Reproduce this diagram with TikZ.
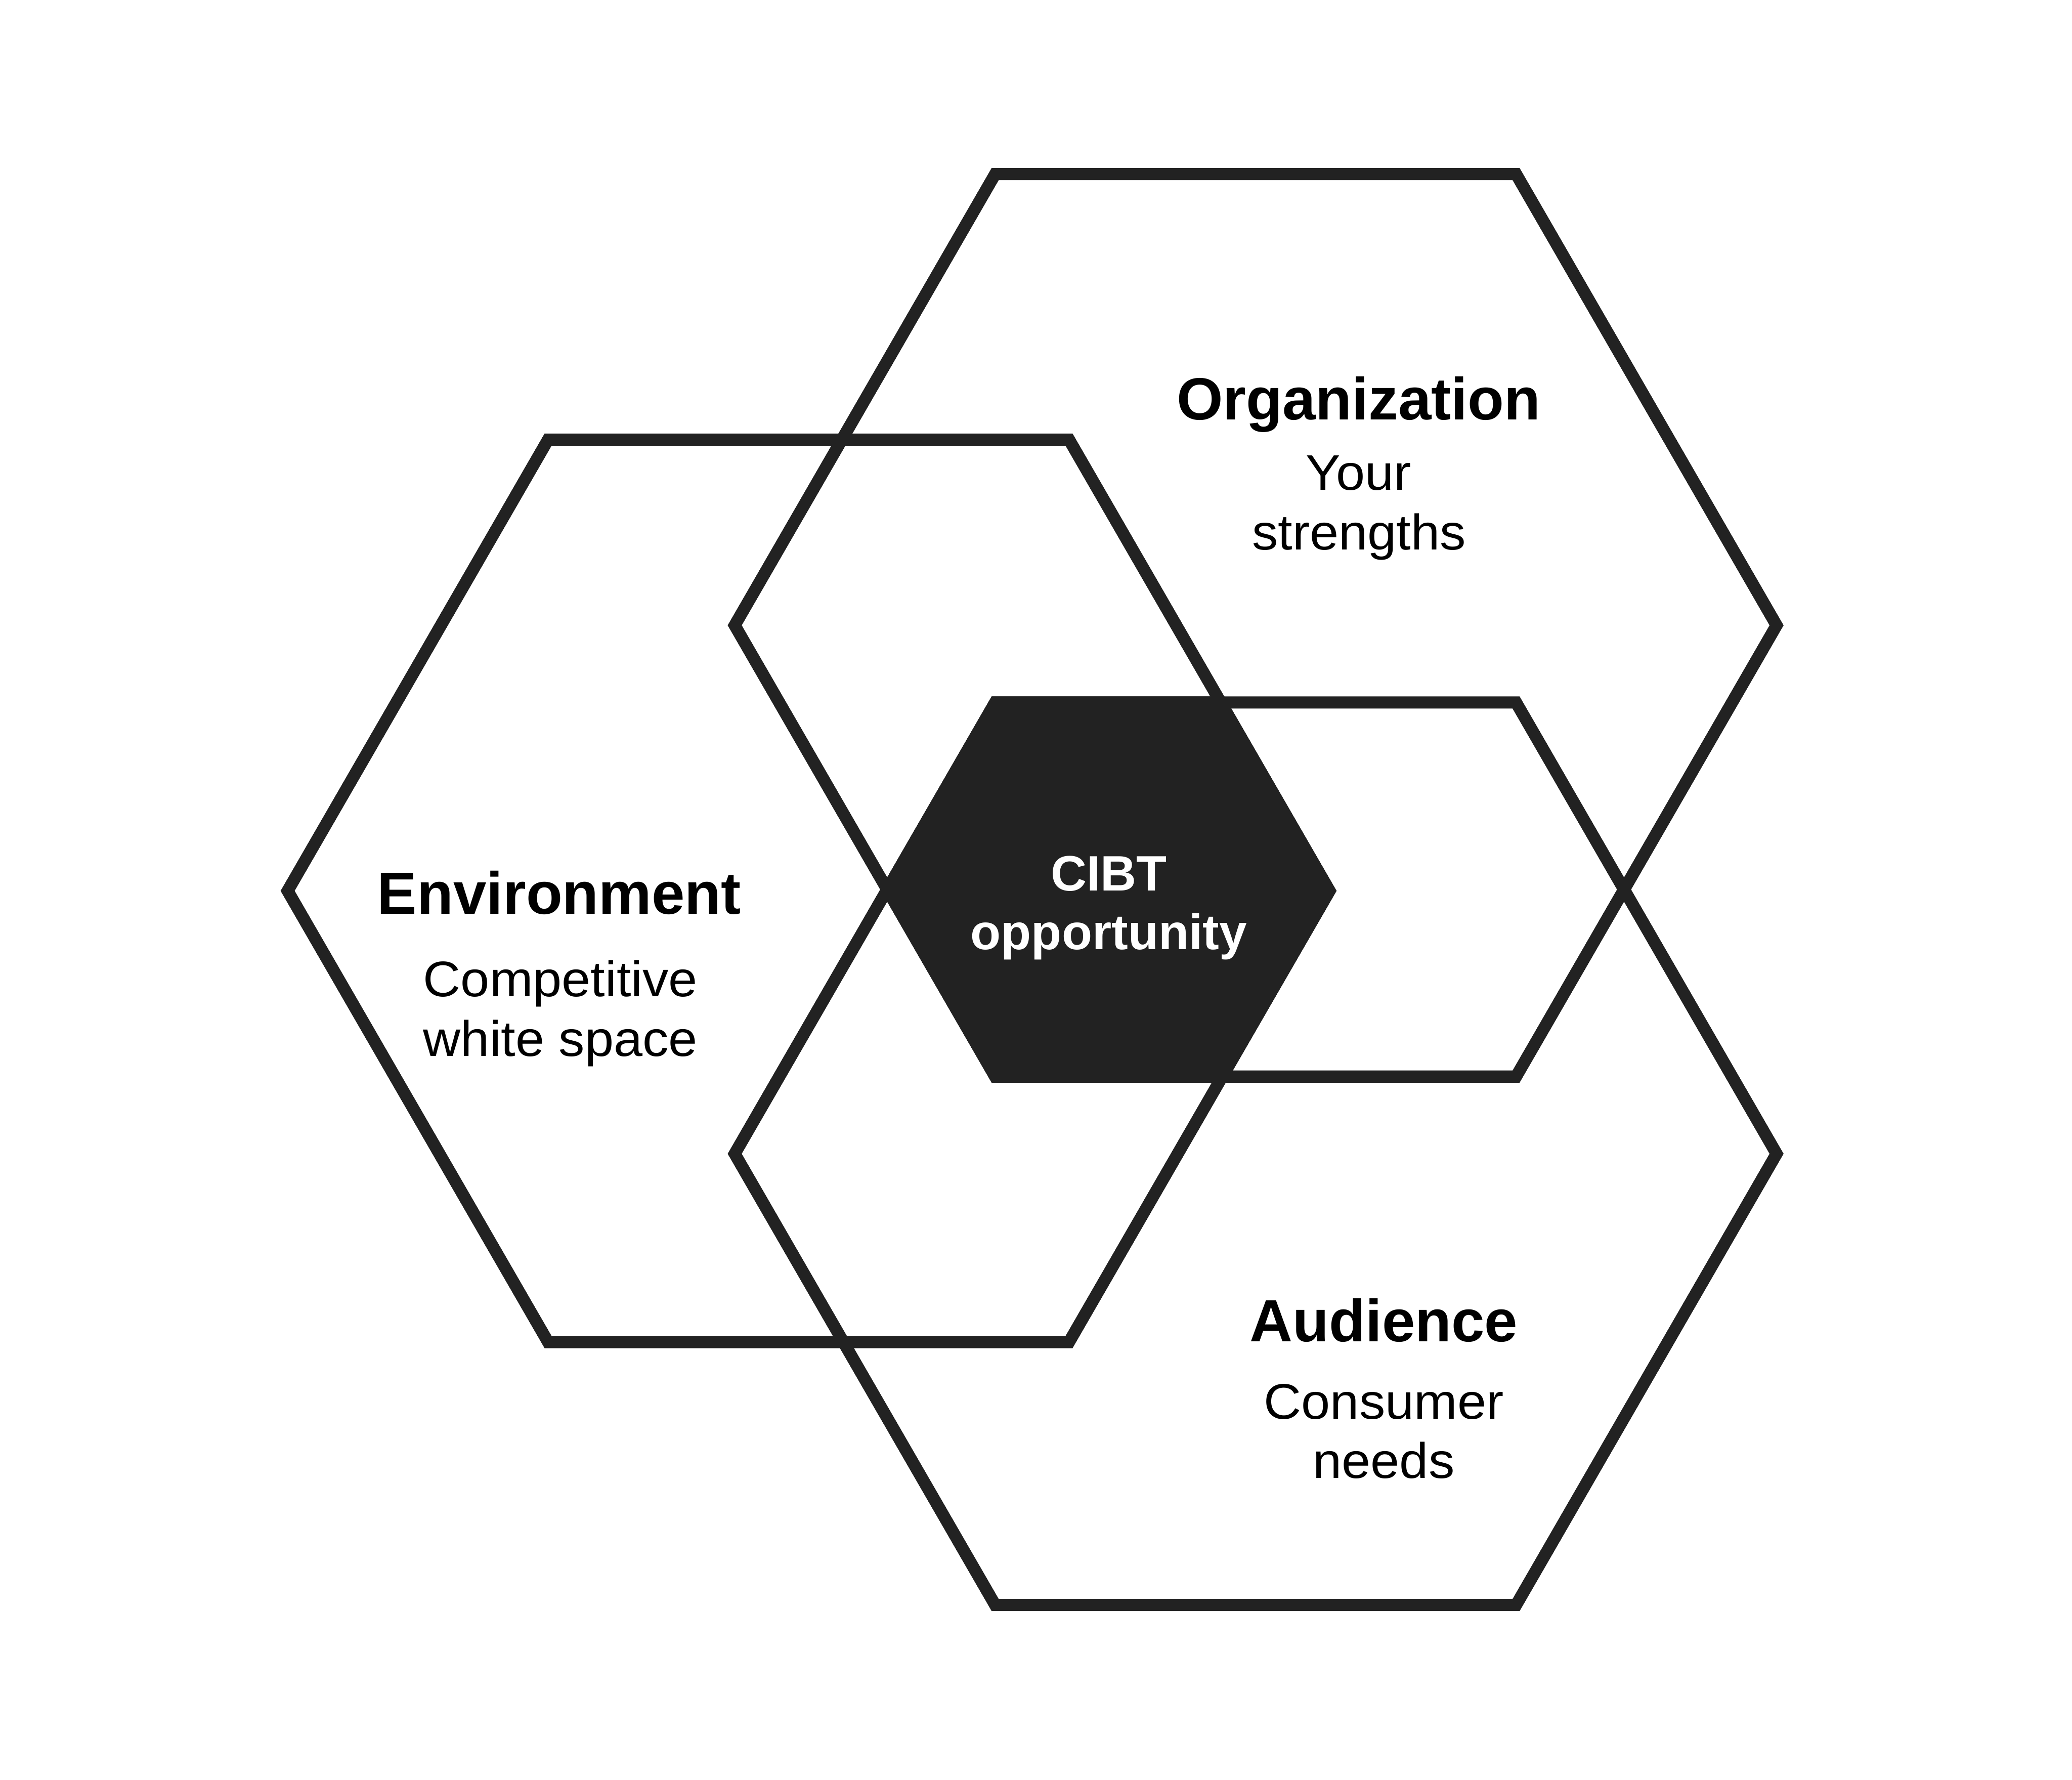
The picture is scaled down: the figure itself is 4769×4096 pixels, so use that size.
\documentclass[tikz,border=0pt]{standalone}
\usepackage{fontspec}
\setmainfont{Liberation Sans}
\newfontfamily\regfont[FakeStretch=1.04]{Liberation Sans}
\definecolor{hexdark}{HTML}{222222}
\begin{document}
\begin{tikzpicture}[x=0.1pt,y=-0.1pt,
  hexline/.style={draw=hexdark,line width=2.8pt,line join=miter},
  corefill/.style={fill=hexdark,draw=hexdark,line width=2.8pt,line join=miter},
  titletext/.style={font=\fontsize{13.7}{16}\selectfont\bfseries,text=black,anchor=base,inner sep=0pt},
  subtext/.style={font=\regfont\fontsize{11.5}{14}\selectfont,text=black,anchor=base,inner sep=0pt},
  coretext/.style={font=\fontsize{11.45}{14}\selectfont\bfseries,text=white,anchor=base,inner sep=0pt}]
\fill[white] (0,0) rectangle (4769,4096);
\useasboundingbox (0,0) rectangle (4769,4096);

\coordinate (envC) at (1861,2050);
\coordinate (orgC) at (2890,1439);
\coordinate (audC) at (2890,2655);

\foreach \c in {envC,orgC,audC}{
  \draw[hexline] (\c) +(0:1199) -- +(60:1199) -- +(120:1199) -- +(180:1199) -- +(240:1199) -- +(300:1199) -- cycle;
}

\coordinate (k1) at (2290.5,1616.6);
\coordinate (k2) at (2809.8,1616.6);
\coordinate (k3) at (3060,2050);
\coordinate (k4) at (2813.2,2477.4);
\coordinate (k5) at (2290.5,2477.4);
\coordinate (k6) at (2042,2047);
\filldraw[corefill] (k1) -- (k2) -- (k3) -- (k4) -- (k5) -- (k6) -- cycle;

\node[titletext] (orgT) at (3127,966) {Organization};
\node[subtext] (orgA) at (3127,1128) {Your};
\node[subtext] (orgB) at (3128,1265) {strengths};

\node[titletext] (envT) at (1287,2103) {Environment};
\node[subtext] (envA) at (1290,2293) {Competitive};
\node[subtext] (envB) at (1290,2430) {white space};

\node[titletext] (audT) at (3185,3087) {Audience};
\node[subtext] (audA) at (3185,3265) {Consumer};
\node[subtext] (audB) at (3185,3402) {needs};

\node[coretext] (coreA) at (2552,2050) {CIBT};
\node[coretext] (coreB) at (2552,2185) {opportunity};
\end{tikzpicture}
\end{document}
